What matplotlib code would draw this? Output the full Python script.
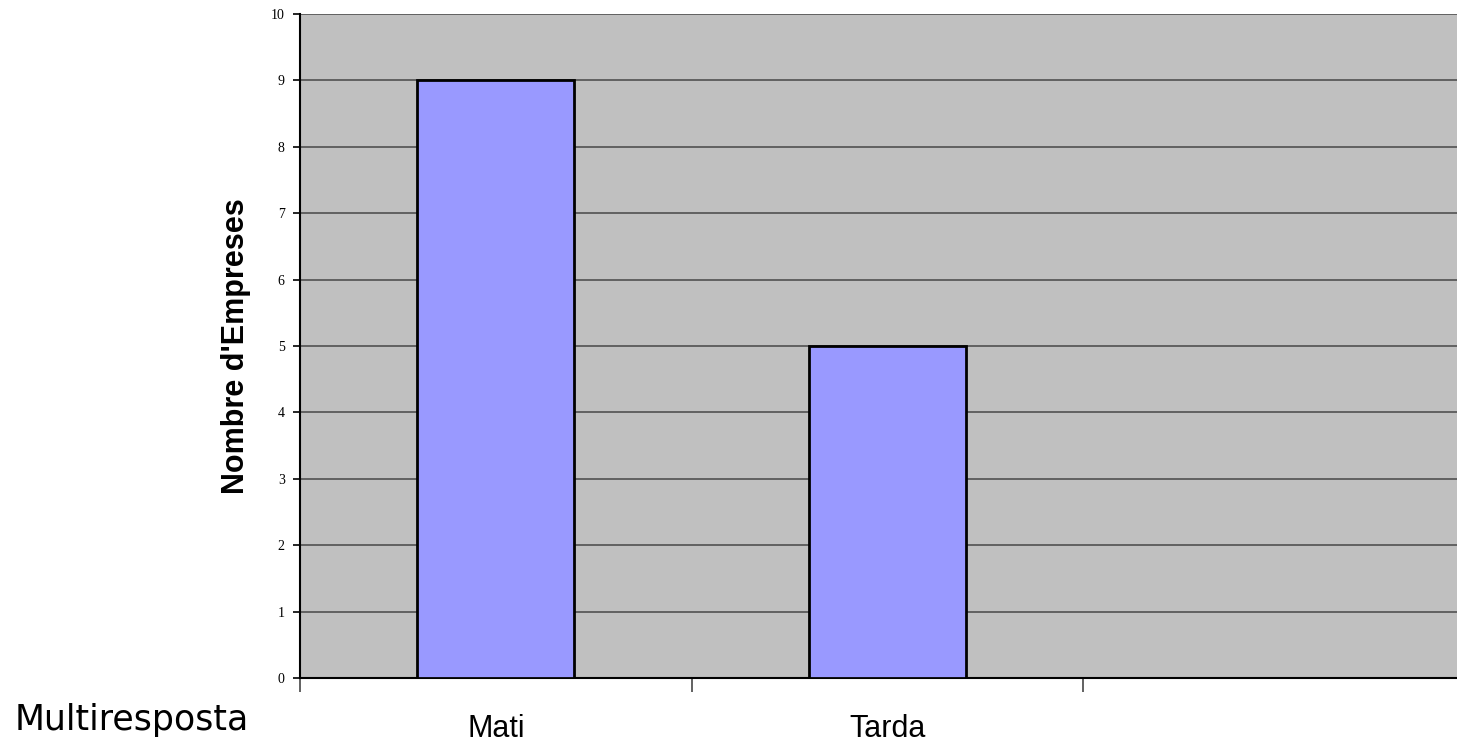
import matplotlib
matplotlib.use("Agg")
import matplotlib.pyplot as plt

categories = ["Mati", "Tarda", ""]
values = [9, 5, 0]
yticks = list(range(0, 11))

W, H = 1457, 744
fig = plt.figure(figsize=(W / 100, H / 100), dpi=100)
fig.patch.set_facecolor("white")

left_px, right_px, top_px, bottom_px = 300, 1457, 14, 678
ax = fig.add_axes([left_px / W, 1 - bottom_px / H, (right_px - left_px) / W, (bottom_px - top_px) / H])
ax.set_facecolor("#C0C0C0")

x = list(range(len(categories)))
ax.bar(x[:2], values[:2], width=0.40, color="#9999FF", edgecolor="black", linewidth=2, zorder=3)

ax.set_yticks(yticks)
ax.set_yticklabels([str(v) for v in yticks], fontsize=10, family="Liberation Serif")
ax.yaxis.grid(True, color="#5a5a5a", linewidth=1.3, zorder=1)
ax.set_axisbelow(True)

# category labels
ax.set_xticks(x[:2])
ax.set_xticklabels(categories[:2], fontsize=22, family="Liberation Sans", va="top")
ax.tick_params(axis="x", length=0, pad=26)
ax.set_xticks([-0.5, 0.5, 1.5], minor=True)
ax.tick_params(axis="x", which="minor", length=10, width=1.3, color="#555555", direction="out")
ax.tick_params(axis="y", length=5, width=1.2, color="black", direction="out", pad=6)

ax.set_ylim(0, 10)
ax.set_xlim(-0.5, -0.5 + (right_px - left_px) / 391.5)

for s in ["top", "right"]:
    ax.spines[s].set_visible(False)
ax.spines["left"].set_color("black")
ax.spines["left"].set_linewidth(1.5)
ax.spines["bottom"].set_color("black")
ax.spines["bottom"].set_linewidth(1.5)

ax.set_ylabel("Nombre d'Empreses", fontsize=22, fontweight="bold", family="Liberation Sans", labelpad=14)

fig.text(15 / W, 1 - 730 / H, "Multiresposta", fontsize=25, family="DejaVu Sans", ha="left", va="baseline")

fig.savefig("out.png", dpi=100, facecolor="white")
